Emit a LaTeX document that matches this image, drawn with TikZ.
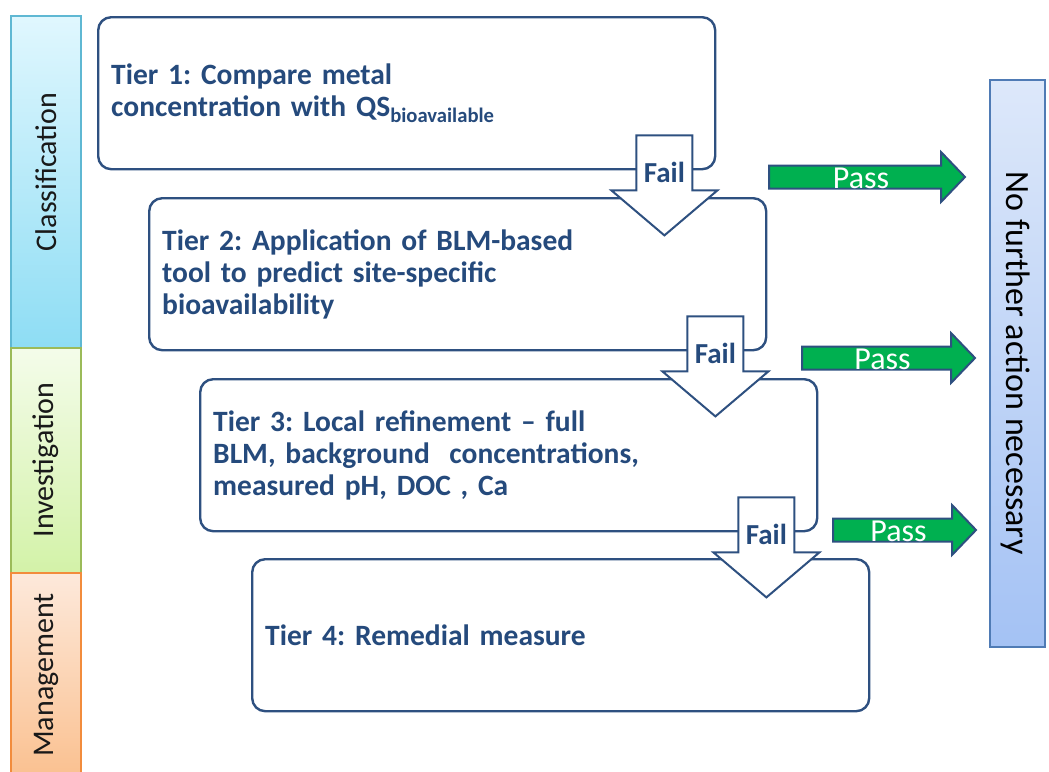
\documentclass[tikz,border=0pt]{standalone}
\usepackage{fontspec}
\setmainfont{Carlito}
\usetikzlibrary{calc}
\frenchspacing

\definecolor{tierline}{HTML}{2E5080}
\definecolor{tierink}{HTML}{254A7C}
\definecolor{passfill}{HTML}{00B050}
\definecolor{classtop}{HTML}{E0F7FE}
\definecolor{classbot}{HTML}{8EDDF4}
\definecolor{classline}{HTML}{5FB8D3}
\definecolor{invtop}{HTML}{F4FCEA}
\definecolor{invbot}{HTML}{D3F2A8}
\definecolor{invline}{HTML}{9BBB59}
\definecolor{mantop}{HTML}{FDE9DB}
\definecolor{manbot}{HTML}{FAC08F}
\definecolor{manline}{HTML}{F28C3C}
\definecolor{nfatop}{HTML}{DDE8FA}
\definecolor{nfabot}{HTML}{A4C2F4}
\definecolor{nfaline}{HTML}{4F7BB5}

\tikzset{
  tierbox/.style={draw=tierline, line width=2.4pt, rounded corners=13pt, fill=white,
    minimum width=617pt, minimum height=152pt, text width=591pt, inner xsep=13pt,
    align=left, anchor=north west, text=tierink,
    font=\bfseries\fontsize{29.5}{32}\selectfont},
  failarrow/.style={draw=tierline, line width=2pt, fill=white, line join=miter},
  failtext/.style={text=tierink, font=\bfseries\fontsize{29}{30}\selectfont},
  passarrow/.style={draw=tierline, line width=2pt, fill=passfill, line join=miter},
  passtext/.style={text=white, font=\fontsize{32}{34}\selectfont},
  phase/.style={line width=1.2pt},
  phaselabel/.style={rotate=90, font=\fontsize{30}{32}\selectfont, text=black!90},
}

\begin{document}
\begin{tikzpicture}[x=1pt,y=-1pt]
  \useasboundingbox (0,0) rectangle (1049,771);

  % phases on the left
  \shade[phase, draw=classline, top color=classtop, bottom color=classbot] (11,16) rectangle (81,348);
  \shade[phase, draw=invline, top color=invtop, bottom color=invbot] (11,348) rectangle (81,573);
  \shade[phase, draw=manline, top color=mantop, bottom color=manbot] (11,573) rectangle (81,780);
  \node[phaselabel] (classif) at (46,172) {Classification};
  \node[phaselabel] (investig) at (46,460) {Investigation};
  \node[phaselabel] (manage) at (46,675) {Management};

  % the four tiers
  \node[tierbox] (tier1) at (97,16) {Tier 1: Compare metal\\concentration with QS\textsubscript{bioavailable}};
  \node[tierbox] (tier2) at (148,197) {Tier 2: Application of BLM-based\\tool to predict site-specific\\bioavailability};
  \node[tierbox] (tier3) at (199,378) {Tier 3: Local refinement -- full\\BLM, background~ concentrations,\\measured pH, DOC , Ca};
  \node[tierbox] (tier4) at (251,558) {Tier 4: Remedial measure};

  % fail arrows between the tiers
  \foreach \t/\n in {tier1/1, tier2/2, tier3/3}{
    \coordinate (failtop\n) at ($(\t.south east)+(-52,-35)$);
    \draw[failarrow] ($(failtop\n)+(-28,0)$) -- ++(0,55) -- ++(-25,0) -- ++(53,45)
      -- ++(53,-45) -- ++(-25,0) -- ++(0,-55) -- cycle;
    \node[failtext] (fail\n) at ($(failtop\n)+(0,37)$) {Fail};
  }

  % pass arrows
  \foreach \a/\b/\y/\n in {769/965/177/1, 802/975/358/2, 833/976/530/3}{
    \draw[passarrow] (\a,\y-11.5) -- (\b-24,\y-11.5) -- (\b-24,\y-25) -- (\b,\y)
      -- (\b-24,\y+25) -- (\b-24,\y+11.5) -- (\a,\y+11.5) -- cycle;
    \node[passtext] (pass\n) at ({(\a+\b)/2-6},\y+1) {Pass};
  }

  % no further action
  \shade[draw=nfaline, line width=1.2pt, top color=nfatop, bottom color=nfabot] (990,80) rectangle (1045,647);
  \node[rotate=-90, font=\fontsize{34}{36}\selectfont, text=black] (nofurther) at (1016,363) {No further action necessary};
\end{tikzpicture}
\end{document}
